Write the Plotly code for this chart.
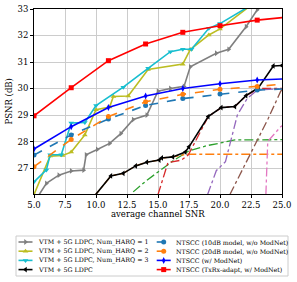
import plotly.graph_objects as go

# ---- data ----
harq1_x = [5.0, 6.0, 7.0, 8.0, 9.0, 9.2, 10.1, 11.1, 12.0, 13.0, 14.1, 15.0, 16.0, 17.1, 17.6, 19.7, 20.7, 22.1, 23.0, 24.0]
harq1_y = [25.7, 26.42, 26.73, 26.89, 26.92, 27.5, 27.7, 27.93, 28.3, 28.83, 29.0, 29.9, 30.0, 30.08, 30.82, 31.33, 31.48, 32.33, 32.97, 33.4]

harq2_x = [5.0, 6.3, 7.3, 8.0, 9.1, 10.0, 11.1, 11.4, 12.6, 14.2, 17.0, 17.6, 19.1, 20.0, 23.0]
harq2_y = [26.0, 27.45, 27.47, 27.6, 28.25, 29.2, 29.3, 29.7, 29.72, 30.72, 30.92, 31.47, 32.02, 32.25, 33.32]

harq3_x = [5.0, 6.0, 6.3, 7.2, 8.0, 9.1, 10.0, 12.2, 14.2, 16.0, 17.0, 17.7, 19.1, 20.0, 23.0]
harq3_y = [26.48, 26.93, 27.5, 27.5, 28.7, 28.72, 29.36, 30.05, 30.76, 31.39, 31.48, 31.48, 32.27, 32.45, 33.28]

ldpc_x = [9.8, 11.2, 12.2, 13.2, 14.1, 15.1, 15.3, 16.2, 17.2, 17.5, 19.05, 20.1, 21.2, 22.1, 23.1, 24.3, 25.0]
ldpc_y = [25.9, 26.7, 26.8, 27.08, 27.22, 27.3, 27.38, 27.42, 27.6, 27.8, 28.94, 29.28, 29.32, 29.73, 30.03, 30.85, 30.87]

snr_x = [5, 8, 11, 14, 17, 20, 23, 26]
ntscc10_y = [27.49, 28.25, 28.85, 29.36, 29.62, 29.79, 29.94, 30.0]
ntscc20_y = [27.05, 28.08, 28.94, 29.5, 29.78, 29.97, 30.08, 30.2]
modnet_y = [27.72, 28.56, 29.28, 29.72, 30.0, 30.18, 30.32, 30.38]
adapt_y = [28.97, 30.03, 31.05, 31.68, 32.12, 32.37, 32.58, 32.72]

# individual MCS curves (dash-dot, not in legend)
mcs_green_x = [13.0, 14.0, 15.0, 16.3, 17.5, 19.0, 20.0, 21.2, 25.0]
mcs_green_y = [26.1, 26.5, 26.85, 27.3, 27.65, 27.85, 27.94, 28.06, 28.07]
mcs_orange_x = [9.8, 11.2, 12.2, 13.2, 14.1, 15.1, 15.3, 16.2, 17.3, 25.0]
mcs_orange_y = [25.9, 26.7, 26.8, 27.08, 27.22, 27.3, 27.38, 27.42, 27.52, 27.52]
mcs_red_x = [15.0, 15.8, 16.9, 17.45, 19.05, 20.1, 21.2, 22.1, 23.1, 25.0]
mcs_red_y = [26.0, 27.2, 27.3, 27.5, 28.94, 29.28, 29.32, 29.73, 30.0, 30.0]
mcs_purple_x = [19.0, 19.7, 20.44, 21.4, 22.2, 23.0, 25.0]
mcs_purple_y = [26.0, 26.9, 27.24, 29.0, 29.63, 29.94, 30.0]
mcs_brown_x = [20.8, 22.43, 23.9, 24.88, 25.2]
mcs_brown_y = [26.0, 27.49, 28.88, 29.88, 30.1]
mcs_pink_x = [23.7, 23.85, 24.9, 25.2]
mcs_pink_y = [26.0, 28.0, 28.56, 28.65]

x_ticks = [5.0, 7.5, 10.0, 12.5, 15.0, 17.5, 20.0, 22.5, 25.0]
y_ticks = [27, 28, 29, 30, 31, 32, 33]

series_names = [
    "VTM + 5G LDPC, Num_HARQ = 1",
    "VTM + 5G LDPC, Num_HARQ = 2",
    "VTM + 5G LDPC, Num_HARQ = 3",
    "VTM + 5G LDPC",
    "NTSCC (10dB model, w/o ModNet)",
    "NTSCC (20dB model, w/o ModNet)",
    "NTSCC (w/ ModNet)",
    "NTSCC (TxRx-adapt, w/ ModNet)",
]

FONT = "DejaVu Serif"
W, H = 297, 282
# plot area in pixels
PL, PR, PT, PB = 34, 282, 9, 194
# legend box in pixels
LL, LR, LT, LB = 16, 288, 236, 276

fig = go.Figure()

# dash-dot curves
for xs, ys, col in [
    (mcs_green_x, mcs_green_y, "#2ca02c"),
    (mcs_orange_x, mcs_orange_y, "#ff7f0e"),
    (mcs_red_x, mcs_red_y, "#d62728"),
    (mcs_purple_x, mcs_purple_y, "#9467bd"),
    (mcs_brown_x, mcs_brown_y, "#8c564b"),
    (mcs_pink_x, mcs_pink_y, "#e377c2"),
]:
    fig.add_trace(go.Scatter(x=xs, y=ys, mode="lines", showlegend=False,
                             line=dict(color=col, width=1.3, dash="dashdot")))

styles = [
    ("#7f7f7f", "triangle-right", "solid"),
    ("#bcbd22", "triangle-up", "solid"),
    ("#17becf", "triangle-down", "solid"),
    ("black", "triangle-left", "solid"),
    ("#1f77b4", "circle", "dash"),
    ("#ff7f0e", "circle", "dash"),
    ("blue", "diamond-tall", "solid"),
    ("red", "square", "solid"),
]
series = [
    (harq1_x, harq1_y), (harq2_x, harq2_y), (harq3_x, harq3_y), (ldpc_x, ldpc_y),
    (snr_x, ntscc10_y), (snr_x, ntscc20_y), (snr_x, modnet_y), (snr_x, adapt_y),
]

for (xs, ys), name, (col, sym, dash) in zip(series, series_names, styles):
    fig.add_trace(go.Scatter(
        x=xs, y=ys, name=name, mode="lines+markers", showlegend=False,
        line=dict(color=col, width=1.6, dash=dash),
        marker=dict(color=col, symbol=sym, size=5)))

# ---- hand-built legend (2 columns x 4 rows) on its own hidden axes ----
lw, lh = LR - LL, LB - LT
row_y = [lh - 6, lh - 15.2, lh - 24.4, lh - 33.6]
col_x = [2.5, 140.7]
handle_len = 14
for i, (name, (col, sym, dash)) in enumerate(zip(series_names, styles)):
    c, r = divmod(i, 4)
    x0 = col_x[c]
    y0 = row_y[r]
    fig.add_trace(go.Scatter(
        x=[x0, x0 + handle_len], y=[y0, y0], mode="lines", showlegend=False,
        xaxis="x2", yaxis="y2", hoverinfo="skip",
        line=dict(color=col, width=1.6, dash="dash" if dash == "dash" else "solid")))
    fig.add_trace(go.Scatter(
        x=[x0 + handle_len / 2], y=[y0], mode="markers", showlegend=False,
        xaxis="x2", yaxis="y2", hoverinfo="skip",
        marker=dict(color=col, symbol=sym, size=5)))
    fig.add_annotation(x=x0 + handle_len + 3.5, y=y0, xref="x2", yref="y2",
                       text=name, showarrow=False, xanchor="left", yanchor="middle",
                       font=dict(family=FONT, size=6.3, color="black"))

fig.add_shape(type="rect", xref="paper", yref="paper", layer="below",
              x0=LL / W, x1=LR / W, y0=1 - LB / H, y1=1 - LT / H,
              line=dict(color="#cccccc", width=1), fillcolor="white")

axis_common = dict(showline=True, linecolor="black", linewidth=1, mirror=True,
                   showgrid=True, gridcolor="#cccccc", gridwidth=1,
                   ticks="outside", ticklen=3, tickcolor="black",
                   tickfont=dict(family=FONT, size=8.5, color="black"),
                   zeroline=False, automargin=False)

fig.update_layout(
    width=W, height=H,
    margin=dict(l=0, r=0, t=0, b=0),
    paper_bgcolor="white", plot_bgcolor="white",
    font=dict(family=FONT, color="black"),
    showlegend=False,
    xaxis=dict(domain=[PL / W, PR / W], range=[5.0, 25.0], tickvals=x_ticks, tickformat=".1f",
               **axis_common),
    yaxis=dict(domain=[1 - PB / H, 1 - PT / H], range=[26.02, 33.0], tickvals=y_ticks,
               **axis_common),
    xaxis2=dict(domain=[LL / W, LR / W], range=[0, lw], visible=False, anchor="y2"),
    yaxis2=dict(domain=[1 - LB / H, 1 - LT / H], range=[0, lh], visible=False, anchor="x2"),
)

# axis titles
fig.add_annotation(x=(PL + PR) / 2 / W, y=1 - 214 / H, xref="paper", yref="paper",
                   text="average channel SNR", showarrow=False,
                   xanchor="center", yanchor="middle",
                   font=dict(family=FONT, size=8.5, color="black"))
fig.add_annotation(x=8 / W, y=1 - ((PT + PB) / 2) / H, xref="paper", yref="paper",
                   text="PSNR (dB)", showarrow=False, textangle=-90,
                   xanchor="center", yanchor="middle",
                   font=dict(family=FONT, size=8.5, color="black"))

# the page's default 8px body margin would shift the fixed-size figure; remove it
fig.write_html("out.html", config={"displayModeBar": False},
               post_script="document.body.style.margin='0';")
